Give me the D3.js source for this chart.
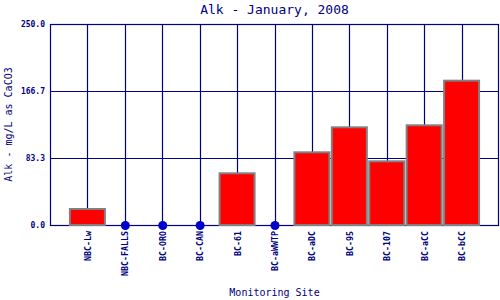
<!DOCTYPE html>
<html>
<head>
<meta charset="utf-8">
<script src="https://cdn.jsdelivr.net/npm/d3@7"></script>
<style>
  body { margin: 0; background: #fff; }
  text { font-family: "DejaVu Sans Mono", "Liberation Mono", monospace; fill: #000080; }
</style>
</head>
<body>
<div id="chart"></div>
<script>
// monitoring sites and January 2008 alkalinity readings
const sites = ["NBC-Lw", "NBC-FALLS", "BC-ORO", "BC-CAN", "BC-61", "BC-aWWTP",
               "BC-aDC", "BC-95", "BC-107", "BC-aCC", "BC-bCC"];
const alk = [19.9, 0, 0, 0, 64.3, 0, 90.4, 121.5, 79.2, 124.0, 179.5];
const yTicks = [0, 83.3, 166.7, 250.0];

const width = 500, height = 300;
const margin = { top: 24, right: 1, bottom: 75, left: 50 };

const svg = d3.select("#chart")
    .append("svg")
    .attr("width", width)
    .attr("height", height);

// one slot of padding on each side of the sites
const x = d3.scaleLinear()
    .domain([0, sites.length + 1])
    .range([margin.left, width - margin.right]);

const y = d3.scaleLinear()
    .domain([0, 250])
    .range([height - margin.bottom, margin.top]);

const barW = 35;
const g = svg.append("g");

// vertical grid lines at each site
g.selectAll(".vgrid")
    .data(sites)
    .enter()
    .append("line")
    .attr("class", "vgrid")
    .attr("x1", (d, i) => Math.round(x(i + 1)) + 0.5)
    .attr("x2", (d, i) => Math.round(x(i + 1)) + 0.5)
    .attr("y1", y(250))
    .attr("y2", y(0))
    .attr("stroke", "#000080")
    .attr("stroke-width", 1.2);

// horizontal grid lines
g.selectAll(".hgrid")
    .data(yTicks)
    .enter()
    .append("line")
    .attr("class", "hgrid")
    .attr("x1", x(0))
    .attr("x2", x(sites.length + 1))
    .attr("y1", d => Math.round(y(d)) + 0.5)
    .attr("y2", d => Math.round(y(d)) + 0.5)
    .attr("stroke", "#000080")
    .attr("stroke-width", 1.2);

// frame
g.append("rect")
    .attr("x", Math.round(x(0)) + 0.5)
    .attr("y", Math.round(y(250)) + 0.5)
    .attr("width", Math.round(x(sites.length + 1)) - Math.round(x(0)) - 1)
    .attr("height", Math.round(y(0)) - Math.round(y(250)))
    .attr("fill", "none")
    .attr("stroke", "#000080")
    .attr("stroke-width", 1.2);

// bars for non-zero readings
g.selectAll(".bar")
    .data(alk.map((v, i) => ({ v, i })).filter(d => d.v > 0))
    .enter()
    .append("rect")
    .attr("class", "bar")
    .attr("x", d => x(d.i + 1) - barW / 2)
    .attr("y", d => y(d.v))
    .attr("width", barW)
    .attr("height", d => y(0) - y(d.v))
    .attr("fill", "#ff0000")
    .attr("stroke", "#808080")
    .attr("stroke-width", 2);

// dots for zero readings
g.selectAll(".dot")
    .data(alk.map((v, i) => ({ v, i })).filter(d => d.v === 0))
    .enter()
    .append("circle")
    .attr("class", "dot")
    .attr("cx", d => x(d.i + 1) + 0.5)
    .attr("cy", d => y(0) + 0.5)
    .attr("r", 4.5)
    .attr("fill", "#0000cc");

// y tick labels
g.selectAll(".ylab")
    .data(yTicks)
    .enter()
    .append("text")
    .attr("class", "ylab")
    .attr("x", x(0) - 5)
    .attr("y", d => y(d) + 3)
    .attr("text-anchor", "end")
    .attr("font-size", "8px")
    .attr("font-weight", "bold")
    .text(d => d.toFixed(1));

// x tick labels, rotated
g.selectAll(".xlab")
    .data(sites)
    .enter()
    .append("text")
    .attr("class", "xlab")
    .attr("transform", (d, i) => "translate(" + (x(i + 1) + 3.5) + "," + (y(0) + 6) + ") rotate(-90)")
    .attr("text-anchor", "end")
    .attr("font-size", "8.3px")
    .attr("font-weight", "bold")
    .text(d => d);

// titles
const cx = (x(0) + x(sites.length + 1)) / 2;
svg.append("text")
    .attr("x", cx)
    .attr("y", 14)
    .attr("text-anchor", "middle")
    .attr("font-size", "13px")
    .text("Alk - January, 2008");

svg.append("text")
    .attr("x", cx)
    .attr("y", 296)
    .attr("text-anchor", "middle")
    .attr("font-size", "10px")
    .text("Monitoring Site");

svg.append("text")
    .attr("transform", "translate(12," + ((y(0) + y(250)) / 2) + ") rotate(-90)")
    .attr("text-anchor", "middle")
    .attr("font-size", "10px")
    .text("Alk - mg/L as CaCO3");
</script>
</body>
</html>
